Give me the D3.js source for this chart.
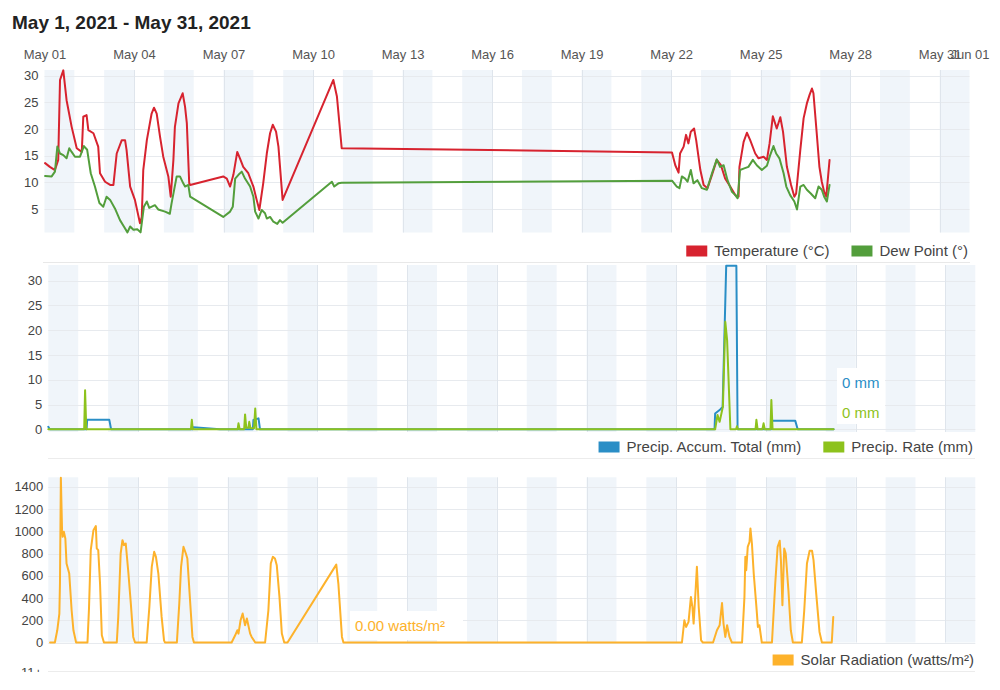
<!DOCTYPE html>
<html><head><meta charset="utf-8">
<script src="https://cdn.jsdelivr.net/npm/d3@7"></script>
<style>body{margin:0;background:#fff} svg{display:block;font-family:"Liberation Sans",Arial,sans-serif}</style>
</head><body><svg id="c" width="1000" height="690"></svg>
<script>
// ---------------- DATA ----------------
const titleText = "May 1, 2021 - May 31, 2021";
// x values = days since May 1 00:00
const dayTicks  = [0,3,6,9,12,15,18,21,24,27,30,31];
const dayLabels = ["May 01","May 04","May 07","May 10","May 13","May 16","May 19","May 22","May 25","May 28","May 31","Jun 01"];

const tempTicks  = [5,10,15,20,25,30];
const precTicks  = [0,5,10,15,20,25,30];
const solarTicks = [0,200,400,600,800,1000,1200,1400];

const temperature = [[0.02,13.6],[0.18,12.9],[0.35,12.3],[0.46,14.2],[0.52,29.2],[0.63,31.0],[0.74,25.4],[0.91,20.4],[1.08,16.4],[1.25,15.7],[1.30,22.3],[1.41,22.6],[1.47,19.8],[1.64,19.2],[1.80,16.7],[1.86,11.7],[2.03,10.1],[2.20,9.5],[2.31,9.5],[2.42,15.4],[2.59,17.9],[2.70,17.9],[2.75,16.1],[2.87,9.2],[3.03,6.7],[3.20,2.3],[3.26,3.5],[3.31,12.3],[3.43,17.9],[3.59,22.9],[3.67,24.0],[3.76,22.9],[3.87,18.6],[3.98,14.8],[4.15,11.1],[4.23,7.3],[4.32,14.2],[4.37,20.4],[4.49,24.8],[4.63,26.7],[4.71,24.2],[4.77,21.1],[4.85,9.8],[4.88,9.5],[5.99,11.1],[6.11,10.7],[6.22,9.2],[6.33,11.4],[6.46,15.7],[6.55,14.5],[6.66,12.9],[6.83,11.7],[7.00,9.2],[7.11,6.7],[7.20,4.8],[7.33,9.8],[7.45,15.4],[7.56,19.2],[7.65,20.8],[7.76,19.5],[7.84,16.7],[7.98,6.7],[9.68,29.2],[9.80,26.1],[9.96,16.4],[21.03,15.6],[21.14,13.2],[21.25,11.8],[21.30,15.4],[21.42,16.7],[21.50,18.9],[21.58,17.3],[21.66,19.5],[21.77,20.1],[21.84,17.9],[21.98,12.3],[22.09,9.5],[22.22,8.9],[22.37,11.4],[22.53,14.2],[22.67,13.2],[22.81,10.7],[22.98,9.2],[23.15,7.6],[23.26,7.3],[23.29,12.9],[23.43,17.6],[23.54,19.3],[23.65,17.9],[23.82,15.4],[23.93,14.5],[24.10,14.8],[24.21,14.2],[24.30,17.3],[24.41,22.4],[24.54,20.1],[24.66,22.2],[24.75,19.5],[24.88,12.9],[25.02,9.5],[25.13,7.3],[25.19,7.9],[25.33,16.1],[25.44,22.0],[25.55,24.8],[25.64,26.4],[25.72,27.6],[25.77,26.7],[25.88,19.2],[25.97,12.9],[26.05,10.1],[26.13,8.2],[26.20,7.3],[26.31,14.2]];

const dewPoint = [[0.02,11.2],[0.24,11.1],[0.35,12.0],[0.43,16.7],[0.52,15.4],[0.63,15.1],[0.74,14.5],[0.83,16.4],[0.91,15.7],[1.02,14.8],[1.19,14.8],[1.32,16.8],[1.43,16.1],[1.55,11.7],[1.69,9.2],[1.84,6.1],[1.97,5.4],[2.08,7.3],[2.20,6.7],[2.36,5.1],[2.53,2.9],[2.66,1.7],[2.78,0.6],[2.87,1.7],[2.98,1.1],[3.11,1.2],[3.22,0.6],[3.33,5.4],[3.43,6.4],[3.51,5.2],[3.70,5.7],[3.81,4.9],[4.04,4.5],[4.20,4.1],[4.26,6.1],[4.43,11.1],[4.54,11.1],[4.65,9.8],[4.71,9.2],[4.82,9.5],[4.88,7.3],[5.99,3.5],[6.22,4.5],[6.31,5.4],[6.39,10.7],[6.50,11.4],[6.61,12.0],[6.72,10.7],[6.89,9.2],[7.00,7.3],[7.06,4.5],[7.17,3.2],[7.28,4.8],[7.39,4.2],[7.45,3.2],[7.56,3.5],[7.67,2.6],[7.80,2.2],[7.89,2.9],[7.98,2.4],[9.63,10.1],[9.71,9.2],[9.85,9.8],[9.96,9.9],[21.03,10.3],[21.19,9.2],[21.28,8.9],[21.36,11.1],[21.47,10.7],[21.55,10.1],[21.66,12.3],[21.75,9.8],[21.88,10.4],[22.03,8.9],[22.20,8.6],[22.37,11.7],[22.53,14.3],[22.64,12.9],[22.76,13.2],[22.89,10.4],[23.04,8.2],[23.15,7.6],[23.23,7.0],[23.31,12.3],[23.45,12.6],[23.59,12.9],[23.74,14.2],[23.87,13.2],[24.04,12.3],[24.21,13.1],[24.32,15.1],[24.43,16.8],[24.52,15.4],[24.63,14.5],[24.77,11.7],[24.86,9.2],[24.99,7.6],[25.13,6.4],[25.22,4.9],[25.33,9.2],[25.44,9.5],[25.55,8.6],[25.68,7.9],[25.83,7.0],[25.94,9.2],[26.05,8.6],[26.13,7.3],[26.22,6.4],[26.31,9.5]];

const precipAccum = [[0,0.5],[0.05,0],[1.28,0],[1.30,1.9],[2.04,1.9],[2.10,0],[4.82,0],[4.85,0.4],[5.74,0],[6.84,0],[6.86,1.9],[7.03,2.2],[7.08,0],[22.28,0],[22.30,3.2],[22.47,4.0],[22.55,4.5],[22.67,33.0],[23.01,33.0],[23.05,0],[24.18,0],[24.20,1.7],[24.98,1.7],[25.06,0],[26.26,0]];

const precipRate = [[0,0],[1.20,0],[1.23,7.9],[1.27,0],[4.77,0],[4.80,1.9],[4.83,0],[6.33,0],[6.36,1.2],[6.40,0],[6.55,0],[6.58,3.0],[6.62,0.3],[6.69,0.3],[6.72,1.5],[6.76,0.2],[6.88,0.2],[6.92,4.2],[6.96,0],[22.30,0],[22.38,2.9],[22.45,1.5],[22.56,4.6],[22.64,21.7],[22.70,18.0],[22.81,0],[23.00,0],[23.03,0.6],[23.06,0],[23.65,0],[23.68,1.9],[23.72,0],[23.88,0],[23.92,1.2],[23.96,0],[24.15,0],[24.18,5.9],[24.22,0],[26.26,0]];

const solar = [[0.06,0],[0.22,0],[0.30,110],[0.37,260],[0.39,530],[0.42,1480],[0.46,1010],[0.48,950],[0.52,995],[0.57,935],[0.61,710],[0.70,620],[0.78,290],[0.84,110],[0.89,50],[0.93,0],[1.31,0],[1.36,300],[1.42,830],[1.51,1010],[1.59,1047],[1.62,846],[1.67,830],[1.73,530],[1.79,65],[1.86,0],[2.29,0],[2.34,230],[2.42,800],[2.48,920],[2.53,875],[2.59,890],[2.68,620],[2.76,350],[2.84,50],[2.90,0],[3.29,0],[3.38,320],[3.46,680],[3.54,815],[3.60,770],[3.68,620],[3.79,230],[3.87,20],[3.90,0],[4.30,0],[4.38,350],[4.44,680],[4.52,860],[4.60,800],[4.65,755],[4.74,380],[4.82,50],[4.87,0],[6.13,0],[6.25,65],[6.32,110],[6.36,80],[6.43,200],[6.50,260],[6.58,155],[6.64,215],[6.75,80],[6.80,50],[6.92,0],[7.25,0],[7.36,290],[7.44,710],[7.51,770],[7.58,755],[7.64,695],[7.73,410],[7.81,80],[7.89,0],[8.00,0],[9.63,700],[9.70,530],[9.82,50],[9.87,0],[21.19,0],[21.27,200],[21.33,140],[21.41,185],[21.49,410],[21.54,320],[21.58,170],[21.64,440],[21.69,680],[21.75,320],[21.83,20],[21.89,0],[22.23,0],[22.36,110],[22.45,155],[22.53,355],[22.58,170],[22.64,50],[22.70,155],[22.78,50],[22.86,0],[23.20,0],[23.28,410],[23.31,770],[23.34,650],[23.39,860],[23.45,905],[23.48,1025],[23.53,890],[23.59,620],[23.68,320],[23.73,140],[23.78,155],[23.86,0],[24.20,0],[24.31,530],[24.39,860],[24.46,915],[24.50,740],[24.55,335],[24.61,845],[24.66,800],[24.75,470],[24.83,110],[24.90,0],[25.20,0],[25.28,290],[25.37,710],[25.46,825],[25.54,825],[25.59,740],[25.68,440],[25.79,95],[25.87,0],[26.20,0],[26.25,230]];

const legend1 = ["Temperature (°C)","Dew Point (°)"];
const legend2 = ["Precip. Accum. Total (mm)","Precip. Rate (mm)"];
const legend3 = ["Solar Radiation (watts/m²)"];
const precipNow = ["0 mm","0 mm"];
const solarNow = "0.00 watts/m²";

// ---------------- DRAW ----------------
const C = {temp:"#d7232f", dew:"#539e3c", accum:"#2a8ec6", rate:"#8dc21c", solar:"#fdb22b",
           band:"#f0f5fa", grid:"#e7eaee", vgrid:"#dfe5ec", text:"#444"};
const FONT = '"Liberation Sans",Arial,sans-serif';
const svg = d3.select("#c");

svg.append("text").attr("x",12).attr("y",29).attr("font-size",19).attr("font-weight","bold")
  .attr("fill","#222").text(titleText);

function panel(o){
  const x = d3.scaleLinear().domain([0,31]).range([o.x0,o.x1]);
  const y = d3.scaleLinear().domain(o.yDomain).range([o.y1,o.y0]);
  const g = svg.append("g");
  g.selectAll("rect.band").data(d3.range(0,31,2)).join("rect").attr("class","band")
    .attr("x",d=>x(d)).attr("width",d=>x(d+1)-x(d)).attr("y",o.y0).attr("height",o.y1-o.y0)
    .attr("fill",C.band);
  g.selectAll("line.h").data(o.yTicks).join("line").attr("class","h")
    .attr("x1",o.x0).attr("x2",o.x1).attr("y1",d=>Math.round(y(d))+0.5).attr("y2",d=>Math.round(y(d))+0.5)
    .attr("stroke",C.grid).attr("stroke-width",1);
  g.selectAll("line.v").data(dayTicks.filter(d=>d>0&&d<31)).join("line").attr("class","v")
    .attr("x1",d=>Math.round(x(d))+0.5).attr("x2",d=>Math.round(x(d))+0.5).attr("y1",o.y0).attr("y2",o.y1)
    .attr("stroke",C.vgrid).attr("stroke-width",1);
  const ax = g.append("g").attr("transform",`translate(${o.x0},0)`)
    .call(d3.axisLeft(y).tickValues(o.yTicks).tickFormat(d3.format("d")).tickSize(0).tickPadding(o.pad||6));
  ax.select(".domain").remove();
  ax.attr("font-size",13).attr("font-family",FONT);
  ax.selectAll("text").attr("fill",C.text);
  return {x,y,g};
}

function drawLine(p,data,color){
  p.g.append("path").datum(data)
    .attr("d",d3.line().x(d=>p.x(d[0])).y(d=>p.y(d[1])))
    .attr("fill","none").attr("stroke",color).attr("stroke-width",2)
    .attr("stroke-linejoin","round").attr("stroke-linecap","round");
}

function legend(items,colors,right,cy){
  const g = svg.append("g");
  let cur = right;
  for(let i=items.length-1;i>=0;i--){
    const t = g.append("text").attr("y",cy+5).attr("font-size",15).attr("fill",C.text).text(items[i]);
    const w = t.node().getComputedTextLength();
    t.attr("x",cur-w);
    g.append("rect").attr("x",cur-w-28).attr("y",cy-5.5).attr("width",21).attr("height",11).attr("fill",colors[i]);
    cur = cur-w-28-22;
  }
}

// Panel 1: temperature / dew point
const p1 = panel({x0:44.5,x1:969.5,y0:70,y1:232.5,yDomain:[0.58,31.07],yTicks:tempTicks});
// top date axis
const xa = svg.append("g").attr("transform","translate(0,64)")
  .call(d3.axisTop(p1.x).tickValues(dayTicks).tickFormat((d,i)=>dayLabels[i]).tickSize(0).tickPadding(5));
xa.select(".domain").remove();
xa.attr("font-size",13).attr("font-family",FONT);
xa.selectAll("text").attr("fill","#555");
drawLine(p1,temperature,C.temp);
drawLine(p1,dewPoint,C.dew);
legend(legend1,[C.temp,C.dew],968,251);

// separator
svg.append("line").attr("x1",43).attr("x2",970).attr("y1",262.5).attr("y2",262.5).attr("stroke","#e8e8e8");

// Panel 2: precipitation
const p2 = panel({x0:48.3,x1:975.3,y0:265,y1:432,yDomain:[-0.55,33.17],yTicks:precTicks});
p2.g.append("rect").attr("x",837).attr("y",368).attr("width",48).attr("height",56).attr("fill","#fff");
drawLine(p2,precipAccum,C.accum);
drawLine(p2,precipRate,C.rate);
svg.append("text").attr("x",842).attr("y",388).attr("font-size",15).attr("fill",C.accum).text(precipNow[0]);
svg.append("text").attr("x",842).attr("y",418).attr("font-size",15).attr("fill",C.rate).text(precipNow[1]);
legend(legend2,[C.accum,C.rate],973,447);

svg.append("line").attr("x1",48).attr("x2",975).attr("y1",458.5).attr("y2",458.5).attr("stroke","#ececec");

// Panel 3: solar radiation
const p3 = panel({x0:48.3,x1:975.3,y0:477.3,y1:642.5,yDomain:[0,1485],yTicks:solarTicks,pad:5});
p3.g.append("rect").attr("x",350).attr("y",611).attr("width",113).attr("height",29).attr("fill","#fff");
drawLine(p3,solar,C.solar);
svg.append("text").attr("x",355).attr("y",631).attr("font-size",15).attr("fill",C.solar).text(solarNow);
legend(legend3,[C.solar],974,660);

// next (cut off) panel
svg.append("line").attr("x1",48).attr("x2",975).attr("y1",671.5).attr("y2",671.5).attr("stroke","#ececec");
svg.append("clipPath").attr("id","cut").append("rect").attr("x",0).attr("y",660).attr("width",60).attr("height",12);
svg.append("text").attr("clip-path","url(#cut)").attr("x",42).attr("y",677).attr("text-anchor","end")
  .attr("font-size",13).attr("fill",C.text).text("11+");
</script></body></html>
